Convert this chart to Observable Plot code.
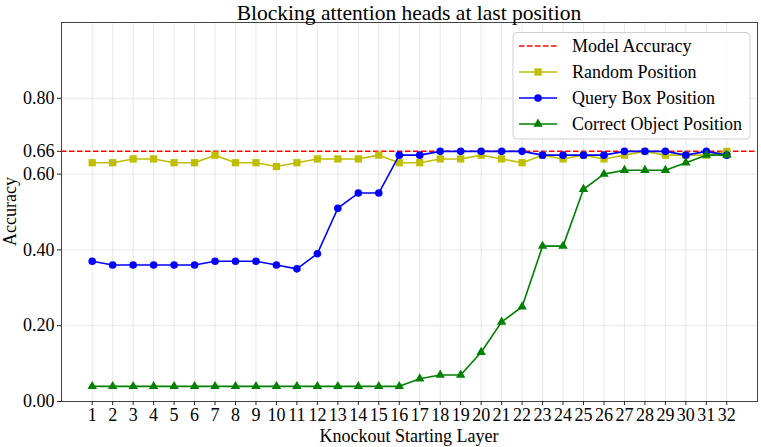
<!DOCTYPE html>
<html>
<head>
<meta charset="utf-8">
<script src="https://cdn.jsdelivr.net/npm/d3@7"></script>
<script src="https://cdn.jsdelivr.net/npm/@observablehq/plot@0.6"></script>
<style>
  html, body { margin: 0; padding: 0; background: white; }
  #chart { width: 761px; height: 447px; }
</style>
</head>
<body>
<div id="chart"></div>
<script>
const layers = [1,2,3,4,5,6,7,8,9,10,11,12,13,14,15,16,17,18,19,20,21,22,23,24,25,26,27,28,29,30,31,32];
const randomPos = [0.63,0.63,0.64,0.64,0.63,0.63,0.65,0.63,0.63,0.62,0.63,0.64,0.64,0.64,0.65,0.63,0.63,0.64,0.64,0.65,0.64,0.63,0.65,0.64,0.65,0.64,0.65,0.66,0.65,0.65,0.65,0.66];
const queryBox = [0.37,0.36,0.36,0.36,0.36,0.36,0.37,0.37,0.37,0.36,0.35,0.39,0.51,0.55,0.55,0.65,0.65,0.66,0.66,0.66,0.66,0.66,0.65,0.65,0.65,0.65,0.66,0.66,0.66,0.65,0.66,0.65];
const correctObj = [0.04,0.04,0.04,0.04,0.04,0.04,0.04,0.04,0.04,0.04,0.04,0.04,0.04,0.04,0.04,0.04,0.06,0.07,0.07,0.13,0.21,0.25,0.41,0.41,0.56,0.60,0.61,0.61,0.61,0.63,0.65,0.65];
const modelAccuracy = 0.66;
const yTicks = [0, 0.2, 0.4, 0.6, 0.66, 0.8];
const seriesNames = ["Model Accuracy", "Random Position", "Query Box Position", "Correct Object Position"];
const seriesColors = ["#ff0000", "#bfbf00", "#0000ff", "#008000"];
const seriesSymbols = [null, "square", "circle", "triangle"];

const font = "'Liberation Serif', 'Times New Roman', serif";
const W = 761, H = 447, mL = 61, mR = 4, mT = 22, mB = 46;

const symR = {square: 4.1, circle: 3.8, triangle: 3.5};

function series(vals, i) {
  return [
    Plot.line(vals, {x: layers, y: vals, stroke: seriesColors[i], strokeWidth: 1.6}),
    Plot.dot(vals, {x: layers, y: vals, fill: seriesColors[i], stroke: "none", symbol: seriesSymbols[i], r: symR[seriesSymbols[i]]})
  ];
}

const plot = Plot.plot({
  width: W, height: H,
  marginLeft: mL, marginRight: mR, marginTop: mT, marginBottom: mB,
  x: {domain: [-0.5, 33.5]},
  y: {domain: [0, 1]},
  style: {fontFamily: font, fontSize: "18px", color: "black", background: "white", overflow: "visible"},
  marks: [
    Plot.gridX(layers, {stroke: "#b0b0b0", strokeOpacity: 0.35, strokeWidth: 0.8}),
    Plot.gridY(yTicks, {stroke: "#b0b0b0", strokeOpacity: 0.35, strokeWidth: 0.8}),
    Plot.ruleY([modelAccuracy], {stroke: seriesColors[0], strokeWidth: 1.5, strokeDasharray: "5.5,2.5"}),
    ...series(randomPos, 1),
    ...series(queryBox, 2),
    ...series(correctObj, 3),
    Plot.frame({stroke: "#444", strokeWidth: 1}),
    Plot.axisX(layers, {tickSize: 4, tickPadding: 3, label: null, stroke: "#222", fill: "black"}),
    Plot.axisY(yTicks, {tickSize: 4, tickPadding: 3, label: null, tickFormat: d3.format(".2f"), stroke: "#222", fill: "black"})
  ]
});

document.getElementById("chart").appendChild(plot);

const svg = d3.select(plot);
const cx = (mL + (W - mR)) / 2;

svg.append("text").attr("x", cx).attr("y", 19.5).attr("text-anchor", "middle")
  .style("font-family", font).style("font-size", "21.5px")
  .text("Blocking attention heads at last position");

svg.append("text").attr("x", cx).attr("y", 442).attr("text-anchor", "middle")
  .style("font-family", font).style("font-size", "18px")
  .text("Knockout Starting Layer");

svg.append("text").attr("transform", `translate(16, ${(mT + H - mB) / 2}) rotate(-90)`)
  .attr("text-anchor", "middle")
  .style("font-family", font).style("font-size", "18px").text("Accuracy");

// legend
const lg = svg.append("g").attr("text-anchor", "start");
lg.append("rect").attr("x", 513).attr("y", 32.5).attr("width", 237).attr("height", 106.5)
  .attr("rx", 4).attr("fill", "white").attr("fill-opacity", 0.85).attr("stroke", "#d0d0d0");
const sym = {square: d3.symbolSquare, circle: d3.symbolCircle, triangle: d3.symbolTriangle};
seriesNames.forEach((name, i) => {
  const y = 46 + i * 26;
  const ln = lg.append("line").attr("x1", 519).attr("x2", 557).attr("y1", y).attr("y2", y)
    .attr("stroke", seriesColors[i]).attr("stroke-width", i === 0 ? 1.5 : 1.6);
  if (i === 0) ln.attr("stroke-dasharray", "5.5,2.5");
  if (seriesSymbols[i]) {
    const r = symR[seriesSymbols[i]];
    lg.append("path").attr("d", d3.symbol(sym[seriesSymbols[i]], Math.PI * r * r)())
      .attr("transform", `translate(538, ${y})`).attr("fill", seriesColors[i]);
  }
  lg.append("text").attr("x", 572).attr("y", y + 6).attr("text-anchor", "start")
    .style("font-family", font).style("font-size", "18px").text(name);
});
</script>
</body>
</html>
